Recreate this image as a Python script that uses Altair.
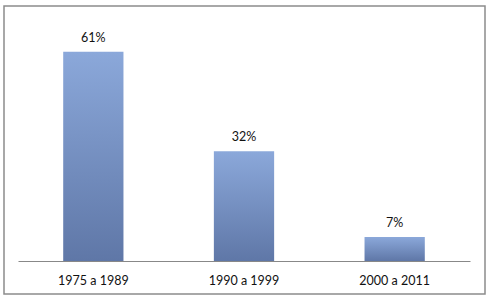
import altair as alt
import pandas as pd

categories = ["1975 a 1989", "1990 a 1999", "2000 a 2011"]
values = [0.61, 0.32, 0.07]
labels = ["61%", "32%", "7%"]

df = pd.DataFrame({"cat": categories, "val": values, "lab": labels})

W, H = 452, 240
FONT = "Lato"

xenc = alt.X("cat:N", sort=categories,
             scale=alt.Scale(paddingInner=0.6, paddingOuter=0.3),
             axis=alt.Axis(title=None, labelAngle=0, domainColor="#888888",
                           ticks=False, labelPadding=13, labelFontSize=12.5,
                           labelColor="#111111", labelFont=FONT))
yscale = alt.Scale(domain=[0, 0.7])

base = alt.Chart(df)

bars = base.mark_bar(
    color=alt.Gradient(
        gradient="linear", x1=0, y1=0, x2=0, y2=1,
        stops=[alt.GradientStop(color="#8ba8da", offset=0),
               alt.GradientStop(color="#5f77a7", offset=1)]),
).encode(x=xenc, y=alt.Y("val:Q", scale=yscale, axis=None))

text = base.mark_text(dy=-10, baseline="alphabetic", fontSize=12.5,
                      font=FONT, color="#111111").encode(
    x=alt.X("cat:N", sort=categories), y=alt.Y("val:Q", scale=yscale),
    text="lab:N")

frame = alt.Chart(pd.DataFrame({"a": [0]})).mark_rect(
    fill=None, stroke="#8c8c8c", strokeWidth=1.5, clip=False).encode(
    x=alt.value(-14), x2=alt.value(467), y=alt.value(-15), y2=alt.value(273))

chart = alt.layer(frame, bars, text).properties(
    width=W, height=H,
    autosize=alt.AutoSizeParams(type="none"),
    padding={"left": 18, "top": 21, "right": 19, "bottom": 38},
    background="white",
).configure_view(stroke=None)

chart.save("out.html", embed_options={"renderer": "svg", "actions": False})
